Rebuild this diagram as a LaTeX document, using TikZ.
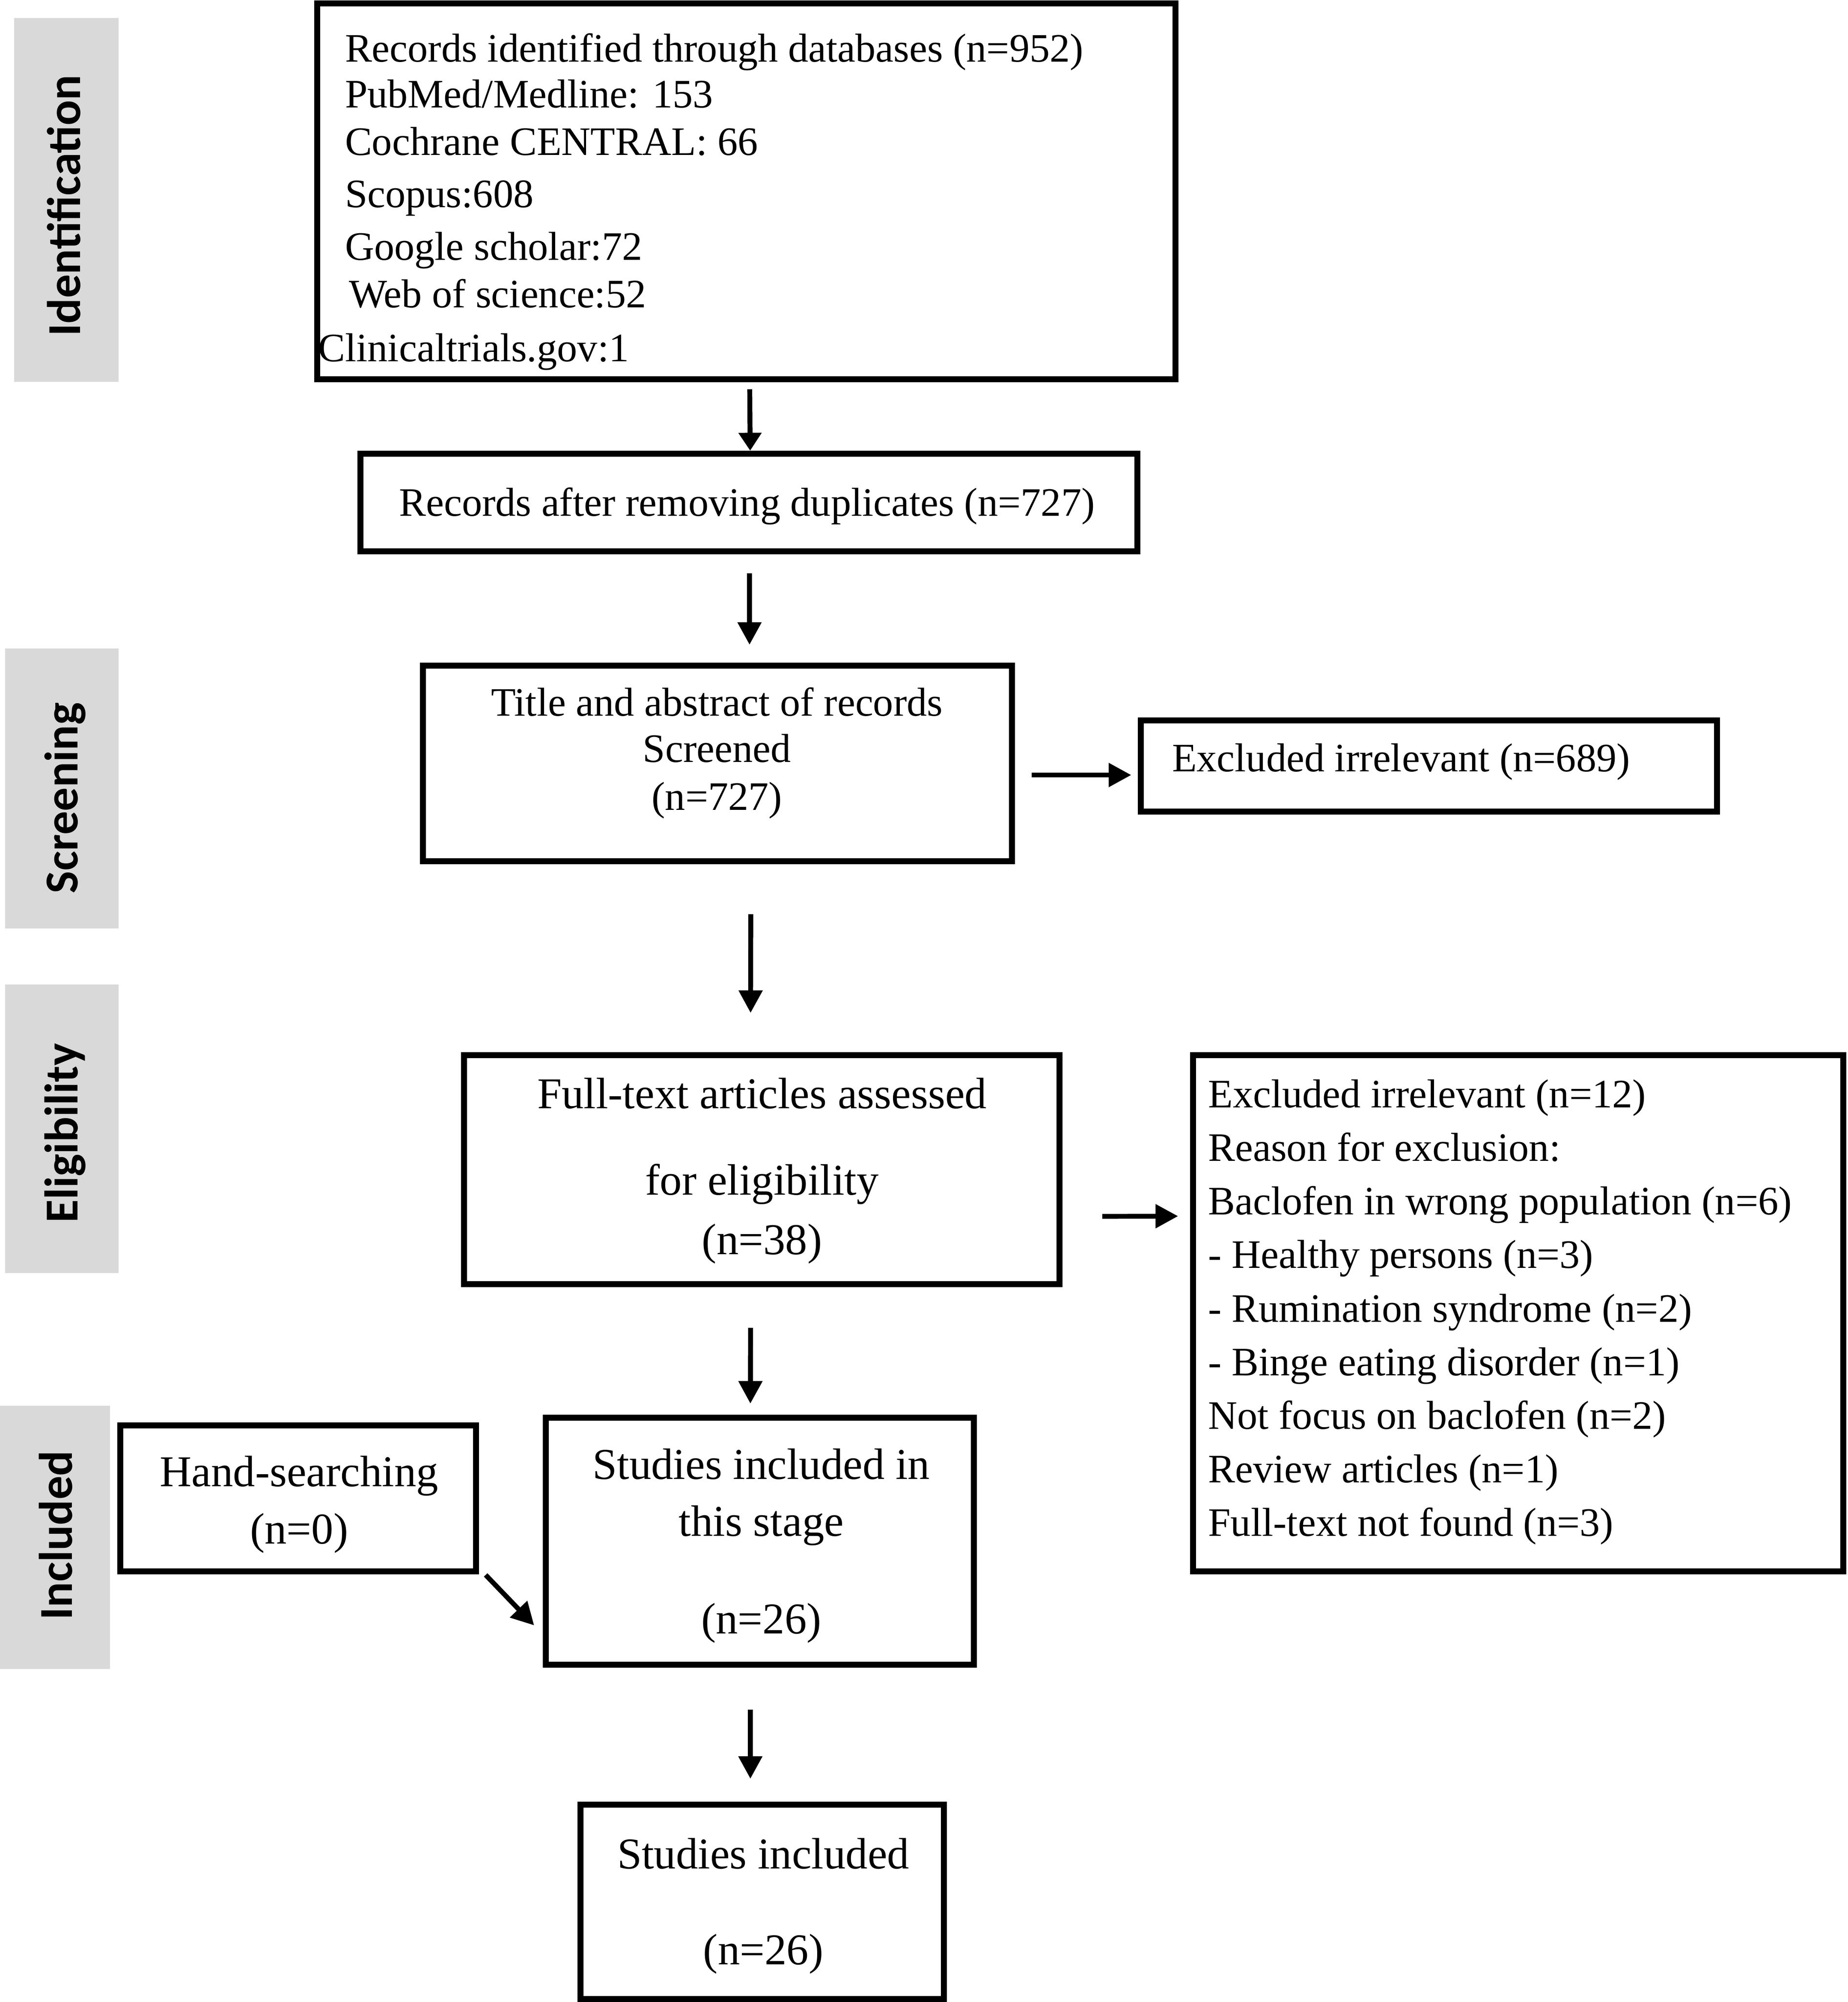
\documentclass[tikz,border=0pt]{standalone}
\usepackage{fontspec}
\setmainfont{Liberation Serif}
\newfontfamily\labelfont{Carlito}
\usetikzlibrary{arrows.meta}
\definecolor{lanegray}{RGB}{217,217,217}
\begin{document}
\begin{tikzpicture}[x=0.03cm,y=-0.03cm,
  box/.style={draw, line width=0.14cm, inner sep=0pt, outer sep=0.07cm},
  arr/.style={line width=0.115cm, -{Triangle[length=0.53cm,width=0.54cm]}},
  lab/.style={font=\labelfont\bfseries\fontsize{31.6}{36}\selectfont, rotate=90, anchor=base, inner sep=0pt},
  ta/.style={font=\fontsize{27}{32}\selectfont, inner sep=0pt},
  tb/.style={font=\fontsize{29.4}{34}\selectfont, inner sep=0pt}]
\useasboundingbox (0,0) rectangle (1447,1568);

% stage lanes
\fill[lanegray] (11,14) rectangle (92.8,299);
\fill[lanegray] (4,508) rectangle (92.8,727);
\fill[lanegray] (4,771) rectangle (92.8,997);
\fill[lanegray] (0,1101) rectangle (86,1307);
\node[lab] (lid) at (62.7,161) {Identification};
\node[lab] (lscr) at (60.9,625) {Screening};
\node[lab] (lel) at (61,887.5) {Eligibility};
\node[lab] (lin) at (56.5,1202.5) {Included};

% boxes
\node[box, minimum width=20.17cm, minimum height=8.83cm] (id) at (584.5,150) {};
\node[box, minimum width=18.25cm, minimum height=2.29cm] (dup) at (586.5,393.5) {};
\node[box, minimum width=13.84cm, minimum height=4.60cm] (scr) at (562,598) {};
\node[box, minimum width=13.54cm, minimum height=2.14cm] (exc1) at (1119,600) {};
\node[box, minimum width=13.99cm, minimum height=5.38cm] (full) at (596.5,916) {};
\node[box, minimum width=15.28cm, minimum height=12.13cm] (exc2) at (1189,1028.5) {};
\node[box, minimum width=8.35cm, minimum height=3.43cm] (hand) at (233.5,1173.5) {};
\node[box, minimum width=10.06cm, minimum height=5.80cm] (stage) at (595,1207) {};
\node[box, minimum width=8.54cm, minimum height=4.56cm] (final) at (597,1489.5) {};

% texts
\node[ta, anchor=base west] (id1) at (270,48.3) {Records identified through databases (n=952)};
\node[ta, anchor=base west] (id2) at (270,84.3) {PubMed/Medline: 153};
\node[ta, anchor=base west] (id3) at (270,121.5) {Cochrane CENTRAL: 66};
\node[ta, anchor=base west] (id4) at (270,162.5) {Scopus:608};
\node[ta, anchor=base west] (id5) at (270,203.8) {Google scholar:72};
\node[ta, anchor=base west] (id6) at (273,240.8) {Web of science:52};
\node[ta, anchor=base west] (id7) at (249,283) {Clinicaltrials.gov:1};

\node[ta, anchor=base] (dup1) at (585,404) {Records after removing duplicates (n=727)};

\node[ta, anchor=base] (scr1) at (561.5,560.6) {Title and abstract of records};
\node[ta, anchor=base] (scr2) at (561.5,597) {Screened};
\node[ta, anchor=base] (scr3) at (561.5,634.4) {(n=727)};

\node[ta, anchor=base west] (exc1t) at (917.7,604.4) {Excluded irrelevant (n=689)};

\node[tb, anchor=base] (full1) at (596.8,868) {Full-text articles assessed};
\node[tb, anchor=base] (full2) at (596.8,935.8) {for eligibility};
\node[tb, anchor=base] (full3) at (596.8,982.4) {(n=38)};

\foreach \t [count=\i from 0] in {Excluded irrelevant (n=12), Reason for exclusion:, Baclofen in wrong population (n=6), - Healthy persons (n=3), - Rumination syndrome (n=2), - Binge eating disorder (n=1), Not focus on baclofen (n=2), Review articles (n=1), Full-text not found (n=3)}
  \node[ta, anchor=base west] (ex\i) at (946,{867.4+\i*41.97}) {\t};

\node[tb, anchor=base] (hand1) at (234.3,1164.3) {Hand-searching};
\node[tb, anchor=base] (hand2) at (234.3,1209) {(n=0)};

\node[tb, anchor=base] (stage1) at (596.2,1158.6) {Studies included in};
\node[tb, anchor=base] (stage2) at (596.2,1203) {this stage};
\node[tb, anchor=base] (stage3) at (596.2,1279.6) {(n=26)};

\node[tb, anchor=base] (final1) at (597.8,1463.5) {Studies included};
\node[tb, anchor=base] (final2) at (597.8,1538.5) {(n=26)};

% connectors
\draw[arr, -{Triangle[length=0.42cm,width=0.52cm]}] ([xshift=0.08cm,yshift=-0.16cm]id.south) -- ([xshift=0.03cm]dup.north);
\draw[arr] ([xshift=0.015cm,yshift=-0.45cm]dup.south) -- ([xshift=0.75cm,yshift=0.42cm]scr.north);
\draw[arr] ([xshift=0.39cm,yshift=-0.27cm]scr.east) -- ([xshift=-0.15cm,yshift=-0.21cm]exc1.west);
\draw[arr] ([xshift=0.78cm,yshift=-1.17cm]scr.south) -- ([xshift=-0.26cm,yshift=0.92cm]full.north);
\draw[arr] ([xshift=0.94cm,yshift=-1.10cm]full.east) -- ([xshift=-0.28cm,yshift=2.28cm]exc2.west);
\draw[arr] ([xshift=-0.26cm,yshift=-0.96cm]full.south) -- ([xshift=-0.22cm,yshift=0.26cm]stage.north);
\draw[arr] ([xshift=0.16cm,yshift=-0.015cm]hand.south east) -- ([xshift=-0.2cm,yshift=-1.98cm]stage.west);
\draw[arr] ([xshift=-0.22cm,yshift=-0.99cm]stage.south) -- ([xshift=-0.28cm,yshift=0.54cm]final.north);
\end{tikzpicture}
\end{document}
